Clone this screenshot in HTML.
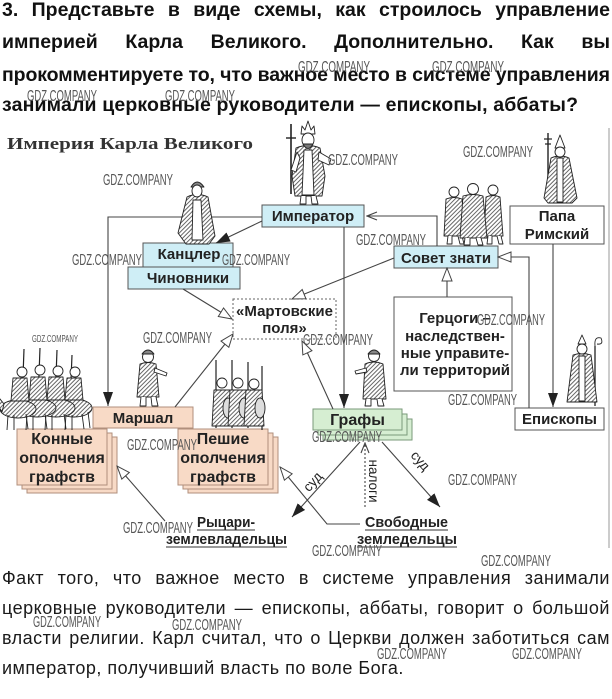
<!DOCTYPE html>
<html><head><meta charset="utf-8">
<style>
html,body{margin:0;padding:0;background:#fff}
#p{position:relative;width:612px;height:699px;overflow:hidden;background:#fff}
.hl{position:absolute;left:2px;width:608px;display:flex;justify-content:space-between;font:bold 19.5px/20px "Liberation Sans",sans-serif;white-space:nowrap;color:#111}
.bl{position:absolute;left:2px;width:608px;display:flex;justify-content:space-between;font:18px/20px "Liberation Sans",sans-serif;letter-spacing:0.5px;white-space:nowrap;color:#1a1a1a}
.bn{position:absolute;left:2px;font:18px/20px "Liberation Sans",sans-serif;letter-spacing:0.5px;white-space:nowrap;color:#1a1a1a}
svg{position:absolute;left:0;top:0}
</style></head><body><div id="p">

<div class="hl" style="top:0px"><span>3.</span><span>Представьте</span><span>в</span><span>виде</span><span>схемы,</span><span>как</span><span>строилось</span><span>управление</span></div>
<div class="hl" style="top:32px"><span>империей</span><span>Карла</span><span>Великого.</span><span>Дополнительно.</span><span>Как</span><span>вы</span></div>

<div class="bl" style="top:568px"><span>Факт</span><span>того,</span><span>что</span><span>важное</span><span>место</span><span>в</span><span>системе</span><span>управления</span><span>занимали</span></div>
<div class="bl" style="top:598px"><span>церковные</span><span>руководители</span><span>—</span><span>епископы,</span><span>аббаты,</span><span>говорит</span><span>о</span><span>большой</span></div>
<div class="bl" style="top:628px"><span>власти</span><span>религии.</span><span>Карл</span><span>считал,</span><span>что</span><span>о</span><span>Церкви</span><span>должен</span><span>заботиться</span><span>сам</span></div>
<div class="bn" style="top:658px">император, получивший власть по воле Бога.</div>

<svg xmlns="http://www.w3.org/2000/svg" width="612" height="699" viewBox="0 0 612 699">
<defs>
<pattern id="h" width="3" height="3" patternUnits="userSpaceOnUse" patternTransform="rotate(45)">
<rect width="3" height="3" fill="#fff"/><line x1="0.5" y1="0" x2="0.5" y2="3" stroke="#555" stroke-width="0.9"/></pattern>
<marker id="af" viewBox="0 0 14 10" refX="14" refY="5" markerWidth="14" markerHeight="10" orient="auto" markerUnits="userSpaceOnUse"><path d="M0,0 L14,5 L0,10 z" fill="#222"/></marker>
<marker id="ah" viewBox="-1 -1 15 12" refX="13" refY="5" markerWidth="15" markerHeight="12" orient="auto" markerUnits="userSpaceOnUse"><path d="M0,0 L13,5 L0,10 z" fill="#fff" stroke="#444" stroke-width="1"/></marker>
<marker id="av" viewBox="-1 -1 12 10" refX="10" refY="4" markerWidth="12" markerHeight="10" orient="auto" markerUnits="userSpaceOnUse"><path d="M0,0 L10,4 L0,8" fill="none" stroke="#444" stroke-width="1.1"/></marker>
</defs>

<!-- header lines 3-4 -->
<text x="2" y="81" font-family="Liberation Sans, sans-serif" font-weight="bold" font-size="19.5" fill="#111" textLength="608" lengthAdjust="spacing">прокомментируете то, что важное место в системе управления</text>
<text x="2" y="111" font-family="Liberation Sans, sans-serif" font-weight="bold" font-size="19.5" fill="#111" textLength="576" lengthAdjust="spacing">занимали церковные руководители — епископы, аббаты?</text>

<!-- title -->
<text x="7" y="149" font-family="Liberation Serif, serif" font-weight="bold" font-size="17" fill="#333" textLength="246" lengthAdjust="spacingAndGlyphs">Империя Карла Великого</text>

<line x1="609" y1="128" x2="609" y2="548" stroke="#999" stroke-width="1"/>

<!-- boxes -->
<g stroke="#555" stroke-width="1">
<rect x="262" y="205" width="102" height="22" fill="#cfeef6"/>
<rect x="143" y="243" width="90" height="24" fill="#cfeef6"/>
<rect x="128" y="267" width="112" height="22" fill="#cfeef6"/>
<rect x="233" y="299" width="103" height="40" fill="#fff" stroke="#666" stroke-dasharray="2,2"/>
<rect x="394" y="246" width="104" height="22" fill="#cfeef6"/>
<rect x="510" y="206" width="94" height="38" fill="#fff"/>
<rect x="394" y="297" width="118" height="94" fill="#fff"/>
<rect x="515" y="408" width="89" height="22" fill="#fff"/>
</g>
<g stroke="#b08f7c" stroke-width="1" fill="#f8dac6">
<rect x="93" y="407" width="100" height="21"/>
<rect x="27" y="437" width="90" height="56"/>
<rect x="22" y="433" width="90" height="56"/>
<rect x="17" y="429" width="90" height="56"/>
<rect x="188" y="437" width="90" height="56"/>
<rect x="183" y="433" width="90" height="56"/>
<rect x="178" y="429" width="90" height="56"/>
</g>
<g stroke="#7a9a7a" stroke-width="1" fill="#d6eed2">
<rect x="323" y="419" width="89" height="21"/>
<rect x="318" y="414" width="89" height="21"/>
<rect x="313" y="409" width="89" height="21"/>
</g>

<!-- connectors -->
<g stroke="#444" stroke-width="1.1" fill="none">
<polyline points="262,217 108,217 108,406" marker-end="url(#af)"/>
<line x1="262" y1="221" x2="216" y2="243" marker-end="url(#af)"/>
<line x1="344" y1="227" x2="344" y2="408" marker-end="url(#af)"/>
<polyline points="437,246 437,216 367,216" marker-end="url(#av)"/>
<line x1="394" y1="258" x2="292" y2="299" marker-end="url(#ah)"/>
<line x1="183" y1="289" x2="232" y2="319" marker-end="url(#ah)"/>
<line x1="175" y1="407" x2="233" y2="334" marker-end="url(#ah)"/>
<line x1="333" y1="409" x2="302" y2="341" marker-end="url(#ah)"/>
<line x1="553" y1="244" x2="553" y2="407" marker-end="url(#af)"/>
<polyline points="529,408 529,257 498,257" marker-end="url(#ah)"/>
<line x1="447" y1="297" x2="447" y2="268" marker-end="url(#ah)"/>
<line x1="360" y1="442" x2="292" y2="517" marker-end="url(#af)"/>
<line x1="382" y1="442" x2="440" y2="507" marker-end="url(#af)"/>
<line x1="365" y1="507" x2="365" y2="443" stroke-dasharray="2,2" marker-end="url(#av)"/>
<polyline points="360,524 327,524 280,467" marker-end="url(#ah)"/>
<line x1="165" y1="521" x2="117" y2="466" marker-end="url(#ah)"/>
</g>

<!-- figures -->
<g stroke="#222" stroke-width="0.9" stroke-linejoin="round">
<!-- emperor -->
<line x1="291" y1="124" x2="291" y2="194" stroke-width="1.6"/>
<line x1="286" y1="138" x2="296" y2="138" stroke-width="1.4"/>
<path d="M301,134 L302,126 L305,130 L308,121 L311,130 L314,126 L315,134 Z" fill="#fff"/>
<path d="M296,148 Q308,143 320,148 L325,176 L322,196 L295,196 L292,176 Z" fill="url(#h)"/>
<path d="M304,150 L312,150 L314,195 L302,195 Z" fill="#fff"/>
<ellipse cx="308" cy="140" rx="6" ry="7" fill="#fff"/>
<path d="M303,144 Q308,153 313,144 Z" fill="#777"/>
<path d="M319,152 L331,159 L329,165 L318,160 Z" fill="#fff"/>
<path d="M297,152 L291,170 L296,172 L300,158 Z" fill="#fff"/>
<path d="M301,196 L300,204 L306,204 L306,196 M311,196 L312,204 L318,204 L316,196" fill="#fff"/>
<!-- chancellor -->
<path d="M191,187 Q197,177 204,187 Z" fill="#888"/>
<path d="M187,197 Q197,192 208,197 L215,236 L209,244 L186,244 L178,233 Z" fill="url(#h)"/>
<path d="M193,200 L201,200 L203,240 L192,240 Z" fill="#fff"/>
<ellipse cx="197" cy="191" rx="5" ry="6" fill="#fff"/>
<!-- council -->
<path d="M446,199 Q454,196 462,199 L465,236 L444,236 Z" fill="url(#h)"/>
<path d="M448,236 L447,244 L452,244 L452,236 M458,236 L460,244 L464,244 L462,236" fill="#fff"/>
<circle cx="454" cy="192" r="5" fill="#fff"/>
<path d="M486,197 Q493,194 500,197 L503,236 L484,236 Z" fill="url(#h)"/>
<path d="M488,236 L487,244 L492,244 L492,236 M497,236 L499,244 L503,244 L501,236" fill="#fff"/>
<circle cx="493" cy="190" r="5" fill="#fff"/>
<path d="M463,196 Q473,193 483,196 L487,238 L460,238 Z" fill="url(#h)"/>
<path d="M465,238 L464,245 L470,245 L470,238 M476,238 L478,245 L483,245 L481,238" fill="#fff"/>
<circle cx="473" cy="189" r="5.5" fill="#fff"/>
<!-- pope -->
<line x1="548" y1="133" x2="548" y2="202" stroke-width="1.4"/>
<line x1="544" y1="139" x2="552" y2="139" stroke-width="1.2"/>
<line x1="545" y1="144" x2="551" y2="144" stroke-width="1.2"/>
<path d="M551,158 Q560,154 569,158 L577,198 L572,203 L548,203 L544,198 Z" fill="url(#h)"/>
<rect x="557" y="158" width="6" height="44" fill="#fff"/>
<path d="M555,148 L560,135 L565,148 Z" fill="#fff"/>
<ellipse cx="560" cy="152" rx="5" ry="5" fill="#fff"/>
<!-- bishop -->
<line x1="595" y1="346" x2="595" y2="406" stroke-width="1.3"/>
<path d="M595,346 Q594,336 601,338 Q604,345 597,344" fill="none"/>
<path d="M573,355 Q582,352 591,355 L597,402 L567,402 Z" fill="url(#h)"/>
<rect x="579" y="356" width="6" height="45" fill="#fff"/>
<path d="M578,344 L582,335 L586,344 Z" fill="#fff"/>
<circle cx="582" cy="349" r="5" fill="#fff"/>
<!-- cavalry -->
<line x1="24" y1="349" x2="22" y2="405" stroke-width="1.2"/>
<line x1="40" y1="348" x2="38" y2="402" stroke-width="1.2"/>
<line x1="57" y1="350" x2="55" y2="404" stroke-width="1.2"/>
<line x1="72" y1="355" x2="70" y2="405" stroke-width="1.2"/>
<g>
<ellipse cx="74" cy="408" rx="18" ry="9" fill="url(#h)"/>
<path d="M66,414 L65,430 M72,415 L72,430 M82,414 L84,429 M88,412 L90,428"/>
<path d="M67,378 L81,378 L83,400 L65,400 Z" fill="url(#h)"/>
<circle cx="75" cy="372" r="5" fill="#fff"/>
<ellipse cx="56" cy="408" rx="19" ry="9" fill="url(#h)"/>
<path d="M46,414 L45,430 M52,415 L52,430 M64,414 L66,429"/>
<path d="M49,377 L63,377 L65,400 L47,400 Z" fill="url(#h)"/>
<circle cx="58" cy="371" r="5" fill="#fff"/>
<ellipse cx="37" cy="408" rx="19" ry="9" fill="url(#h)"/>
<path d="M27,414 L26,430 M33,415 L33,430 M45,414 L47,429"/>
<path d="M31,377 L45,377 L47,400 L29,400 Z" fill="url(#h)"/>
<circle cx="40" cy="370" r="5" fill="#fff"/>
<ellipse cx="18" cy="409" rx="18" ry="9" fill="url(#h)"/>
<path d="M4,404 L-4,394 L-6,399 L2,412 Z" fill="url(#h)"/>
<path d="M8,415 L7,430 M14,415 L14,430 M26,414 L28,429"/>
<path d="M13,378 L27,378 L29,401 L11,401 Z" fill="url(#h)"/>
<circle cx="22" cy="372" r="5" fill="#fff"/>
</g>
<!-- marshal -->
<path d="M140,364 Q148,361 156,364 L159,397 L137,397 Z" fill="url(#h)"/>
<path d="M155,368 L167,373 L166,376 L154,372 Z" fill="#fff"/>
<path d="M141,397 L140,406 L146,406 L146,397 M151,397 L152,406 L158,406 L156,397" fill="#fff"/>
<circle cx="148" cy="357" r="5.5" fill="#fff"/>
<path d="M142,354 Q148,346 154,354 Z" fill="#888"/>
<!-- foot soldiers -->
<line x1="216" y1="360" x2="216" y2="428" stroke-width="1.2"/>
<line x1="232" y1="360" x2="232" y2="428" stroke-width="1.2"/>
<line x1="248" y1="362" x2="248" y2="428" stroke-width="1.2"/>
<line x1="262" y1="366" x2="262" y2="430" stroke-width="1.2"/>
<path d="M214,390 L230,390 L232,426 L212,426 Z" fill="url(#h)"/>
<ellipse cx="228" cy="408" rx="5" ry="10" fill="#ddd"/>
<circle cx="222" cy="383" r="5" fill="#fff"/>
<path d="M230,390 L246,390 L248,426 L228,426 Z" fill="url(#h)"/>
<ellipse cx="244" cy="408" rx="5" ry="10" fill="#ddd"/>
<circle cx="238" cy="383" r="5" fill="#fff"/>
<path d="M246,390 L262,390 L264,426 L244,426 Z" fill="url(#h)"/>
<ellipse cx="260" cy="408" rx="5" ry="10" fill="#ddd"/>
<circle cx="254" cy="384" r="5" fill="#fff"/>
<!-- count -->
<path d="M365,364 Q374,360 383,364 L386,399 L363,399 Z" fill="url(#h)"/>
<path d="M366,368 L355,371 L356,374 L367,372 Z" fill="#fff"/>
<path d="M366,399 L365,406 L371,406 L371,399 M377,399 L378,406 L384,406 L382,399" fill="#fff"/>
<circle cx="374" cy="356" r="5.5" fill="#fff"/>
<path d="M368,354 Q374,346 380,354 Z" fill="#888"/>
</g>

<!-- box labels -->
<g font-family="Liberation Sans, sans-serif" font-weight="bold" font-size="15" fill="#222" text-anchor="middle">
<text x="313" y="221">Император</text>
<text x="189" y="259">Канцлер</text>
<text x="188" y="283">Чиновники</text>
<text x="284.5" y="316">«Мартовские</text>
<text x="284.5" y="333">поля»</text>
<text x="446" y="263">Совет знати</text>
<text x="557" y="221">Папа</text>
<text x="557" y="239">Римский</text>
<text x="455" y="323">Герцоги –</text>
<text x="455" y="341">наследствен-</text>
<text x="455" y="358">ные управите-</text>
<text x="455" y="375">ли территорий</text>
<text x="559.5" y="424">Епископы</text>
<text x="143" y="423">Маршал</text>
<text x="357.5" y="425" font-size="16">Графы</text>
<text x="62" y="444" font-size="16">Конные</text>
<text x="62" y="463" font-size="16">ополчения</text>
<text x="62" y="482" font-size="16">графств</text>
<text x="223" y="444" font-size="16">Пешие</text>
<text x="223" y="463" font-size="16">ополчения</text>
<text x="223" y="482" font-size="16">графств</text>
</g>
<g font-family="Liberation Sans, sans-serif" font-weight="bold" font-size="15" fill="#222">
<text x="197" y="527" textLength="58" lengthAdjust="spacingAndGlyphs">Рыцари-</text>
<text x="166" y="544" textLength="121" lengthAdjust="spacingAndGlyphs">землевладельцы</text>
<text x="365" y="527" textLength="83" lengthAdjust="spacingAndGlyphs">Свободные</text>
<text x="357" y="544" textLength="100" lengthAdjust="spacingAndGlyphs">земледельцы</text>
</g>
<g stroke="#333" stroke-width="1">
<line x1="197" y1="530" x2="255" y2="530"/>
<line x1="166" y1="547" x2="287" y2="547"/>
<line x1="365" y1="530" x2="448" y2="530"/>
<line x1="357" y1="547" x2="457" y2="547"/>
</g>
<g font-family="Liberation Sans, sans-serif" font-size="13.5" fill="#222" text-anchor="middle">
<text transform="translate(313,482) rotate(-48)" dy="4">суд</text>
<text transform="translate(420,461) rotate(48)" dy="4">суд</text>
<text transform="translate(373,481) rotate(90)" dy="4">налоги</text>
</g>

<!-- watermarks -->
<g font-family="Liberation Sans, sans-serif" font-size="16" fill="#555">
<text x="298" y="72" textLength="72" lengthAdjust="spacingAndGlyphs">GDZ.COMPANY</text>
<text x="432" y="72" textLength="72" lengthAdjust="spacingAndGlyphs">GDZ.COMPANY</text>
<text x="27" y="101" textLength="70" lengthAdjust="spacingAndGlyphs">GDZ.COMPANY</text>
<text x="165" y="101" textLength="70" lengthAdjust="spacingAndGlyphs">GDZ.COMPANY</text>
<text x="463" y="157" textLength="70" lengthAdjust="spacingAndGlyphs">GDZ.COMPANY</text>
<text x="328" y="165" textLength="70" lengthAdjust="spacingAndGlyphs">GDZ.COMPANY</text>
<text x="103" y="185" textLength="70" lengthAdjust="spacingAndGlyphs">GDZ.COMPANY</text>
<text x="72" y="265" textLength="70" lengthAdjust="spacingAndGlyphs">GDZ.COMPANY</text>
<text x="222" y="265" textLength="68" lengthAdjust="spacingAndGlyphs">GDZ.COMPANY</text>
<text x="356" y="245" textLength="70" lengthAdjust="spacingAndGlyphs">GDZ.COMPANY</text>
<text x="32" y="342" font-size="10" textLength="46" lengthAdjust="spacingAndGlyphs">GDZ.COMPANY</text>
<text x="143" y="343" textLength="69" lengthAdjust="spacingAndGlyphs">GDZ.COMPANY</text>
<text x="303" y="345" textLength="70" lengthAdjust="spacingAndGlyphs">GDZ.COMPANY</text>
<text x="477" y="325" textLength="68" lengthAdjust="spacingAndGlyphs">GDZ.COMPANY</text>
<text x="448" y="405" textLength="69" lengthAdjust="spacingAndGlyphs">GDZ.COMPANY</text>
<text x="312" y="442" textLength="70" lengthAdjust="spacingAndGlyphs">GDZ.COMPANY</text>
<text x="448" y="485" textLength="69" lengthAdjust="spacingAndGlyphs">GDZ.COMPANY</text>
<text x="123" y="533" textLength="70" lengthAdjust="spacingAndGlyphs">GDZ.COMPANY</text>
<text x="127" y="450" textLength="70" lengthAdjust="spacingAndGlyphs">GDZ.COMPANY</text>
<text x="312" y="556" textLength="70" lengthAdjust="spacingAndGlyphs">GDZ.COMPANY</text>
<text x="481" y="566" textLength="70" lengthAdjust="spacingAndGlyphs">GDZ.COMPANY</text>
<text x="33" y="627" textLength="68" lengthAdjust="spacingAndGlyphs">GDZ.COMPANY</text>
<text x="172" y="630" textLength="70" lengthAdjust="spacingAndGlyphs">GDZ.COMPANY</text>
<text x="377" y="659" textLength="70" lengthAdjust="spacingAndGlyphs">GDZ.COMPANY</text>
<text x="512" y="659" textLength="70" lengthAdjust="spacingAndGlyphs">GDZ.COMPANY</text>
</g>
</svg>
</div></body></html>
